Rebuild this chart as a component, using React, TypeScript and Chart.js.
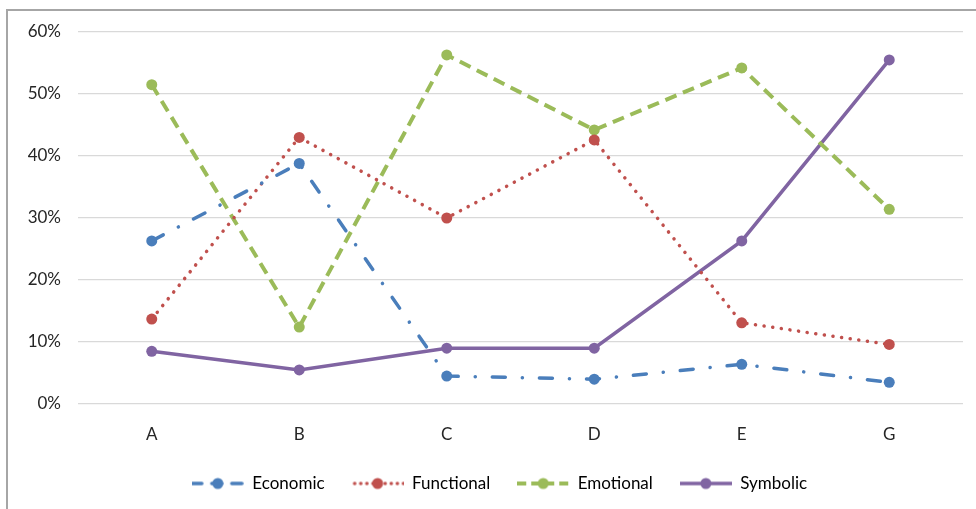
import React, { useEffect, useRef } from "react";
import { Chart, registerables } from "chart.js";

Chart.register(...registerables);

const categories = ["A", "B", "C", "D", "E", "G"];
const economic = [26.3, 38.8, 4.5, 4.0, 6.4, 3.5];
const functional = [13.7, 43.0, 30.0, 42.6, 13.1, 9.6];
const emotional = [51.5, 12.4, 56.3, 44.2, 54.2, 31.4];
const symbolic = [8.5, 5.5, 9.0, 9.0, 26.3, 55.5];
const seriesNames = ["Economic", "Functional", "Emotional", "Symbolic"];
const yTicks = [0, 10, 20, 30, 40, 50, 60];

const colors = ["#4a7ebb", "#c0504d", "#9bbb59", "#8064a2"];
const dashes: number[][] = [[13, 17, 0.1, 17], [0.1, 8.6], [12, 7], []];
const caps: CanvasLineCap[] = ["round", "round", "butt", "butt"];
const widths = [3.5, 3.5, 4, 3.5];
const textColor = "#262626";
const fontSpec = { family: "Lato", size: 17 };

function makeLegendImage(i: number): HTMLCanvasElement {
  const c = document.createElement("canvas");
  c.width = 52;
  c.height = 14;
  const ctx = c.getContext("2d")!;
  ctx.strokeStyle = colors[i];
  ctx.lineWidth = widths[i];
  ctx.lineCap = caps[i];
  let d = dashes[i];
  if (i === 0) d = [10, 10];
  if (i === 1) d = [0.1, 6];
  if (i === 2) d = [9, 5];
  ctx.setLineDash(d);
  ctx.beginPath();
  ctx.moveTo(i === 1 ? 3 : 0, 7);
  ctx.lineTo(52, 7);
  ctx.stroke();
  ctx.setLineDash([]);
  ctx.fillStyle = colors[i];
  ctx.beginPath();
  ctx.arc(26, 7, 5.5, 0, Math.PI * 2);
  ctx.fill();
  return c;
}

const legendShift = {
  id: "legendShift",
  afterLayout(chart: any) {
    const lg = chart.legend;
    if (lg) {
      lg.left = 36;
      lg.right = 963;
    }
  },
};

export default function App() {
  const ref = useRef<HTMLCanvasElement | null>(null);
  useEffect(() => {
    document.body.style.margin = "0";
    const values = [economic, functional, emotional, symbolic];
    const imgs = [0, 1, 2, 3].map(makeLegendImage);
    const chart = new Chart(ref.current!, {
      type: "line",
      data: {
        labels: categories,
        datasets: values.map((v, i) => ({
          label: seriesNames[i],
          data: v,
          borderColor: colors[i],
          backgroundColor: colors[i],
          borderWidth: widths[i],
          borderDash: dashes[i],
          borderCapStyle: caps[i],
          pointRadius: 5.5,
          pointBorderWidth: 0,
          pointBackgroundColor: colors[i],
          tension: 0,
          fill: false,
        })),
      },
      plugins: [legendShift],
      options: {
        animation: false,
        responsive: false,
        layout: { padding: { left: 0, right: 13, top: 32, bottom: 7 } },
        plugins: {
          tooltip: { enabled: false },
          legend: {
            position: "bottom",
            labels: {
              usePointStyle: true,
              pointStyleWidth: 52,
              padding: 27,
              color: textColor,
              font: fontSpec,
              generateLabels: () =>
                seriesNames.map((n, i) => ({
                  text: n,
                  pointStyle: imgs[i],
                  fillStyle: colors[i],
                  strokeStyle: colors[i],
                  lineWidth: 0,
                  datasetIndex: i,
                  hidden: false,
                })),
            },
          },
        },
        scales: {
          x: {
            offset: true,
            grid: { display: false, drawTicks: false },
            border: { display: false },
            ticks: { color: textColor, font: fontSpec, padding: 20 },
            afterFit: (s: any) => {
              s.height = 44;
            },
          },
          y: {
            min: 0,
            max: 60,
            afterBuildTicks: (s: any) => {
              s.ticks = yTicks.map((v) => ({ value: v }));
            },
            grid: { color: "#d9d9d9", lineWidth: 1.3, drawTicks: false },
            border: { display: false },
            ticks: {
              color: textColor,
              font: fontSpec,
              padding: 17,
              callback: (v: any) => v + "%",
            },
            afterFit: (s: any) => {
              s.width = 78;
            },
          },
        },
      },
    });
    return () => chart.destroy();
  }, []);
  return (
    <div style={{ position: "relative", width: 976, height: 509, overflow: "hidden", background: "#fff" }}>
      <div
        style={{
          position: "absolute",
          left: 6,
          top: 9,
          width: 1000,
          height: 600,
          borderLeft: "2px solid #a6a6a6",
          borderTop: "2px solid #a6a6a6",
        }}
      />
      <canvas ref={ref} width={976} height={509} style={{ position: "absolute", left: 0, top: 0 }} />
    </div>
  );
}
